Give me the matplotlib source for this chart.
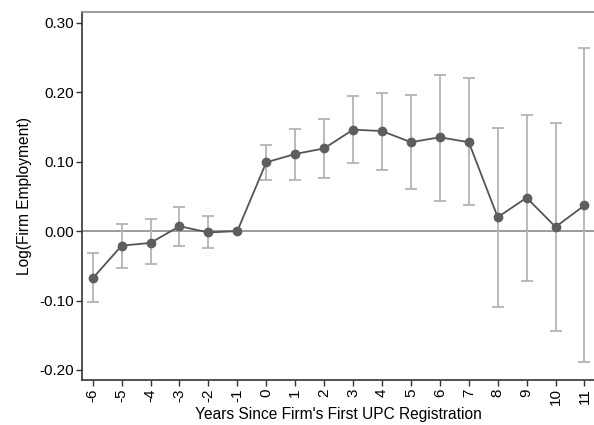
import numpy as np
import matplotlib
matplotlib.use("Agg")
import matplotlib.pyplot as plt

plt.rcParams['font.family'] = ['Liberation Sans', 'DejaVu Sans']

# event-time coefficients
years = [-6, -5, -4, -3, -2, -1, 0, 1, 2, 3, 4, 5, 6, 7, 8, 9, 10, 11]
coef = [-0.068, -0.021, -0.017, 0.007, -0.002, 0.0, 0.099, 0.111, 0.119, 0.146,
        0.144, 0.128, 0.135, 0.128, 0.020, 0.048, 0.006, 0.037]
ci_low = [-0.102, -0.053, -0.048, -0.021, -0.024, 0.0, 0.073, 0.074, 0.076, 0.098,
          0.088, 0.060, 0.044, 0.037, -0.109, -0.072, -0.144, -0.188]
ci_high = [-0.032, 0.010, 0.018, 0.035, 0.021, 0.0, 0.124, 0.147, 0.162, 0.194,
           0.199, 0.196, 0.224, 0.220, 0.149, 0.167, 0.155, 0.264]
yticks = [-0.20, -0.10, 0.00, 0.10, 0.20, 0.30]

years = np.array(years)
coef = np.array(coef)
lo = coef - np.array(ci_low)
hi = np.array(ci_high) - coef

fig = plt.figure(figsize=(5.94, 4.25), dpi=100)
ax = fig.add_axes([82 / 594, 1 - 380 / 425, 1 - 82 / 594 + 0.002, (380 - 12) / 425])

ax.axhline(0, color='#8a8a8a', lw=1.2, zorder=1)
ax.errorbar(years, coef, yerr=[lo, hi], fmt='none', ecolor='#b4b4b4',
            elinewidth=1.3, capsize=4, capthick=1.3, zorder=2)
ax.plot(years, coef, color='#555555', lw=1.3, marker='o', ms=6,
        markerfacecolor='#5e5e5e', markeredgecolor='#5e5e5e', zorder=3)

ax.set_xlim(-6.37, 11.37)
ax.set_ylim(-0.2144, 0.3154)
ax.set_xticks(years)
ax.set_xticklabels([str(y) for y in years], rotation=90)
ax.set_yticks(yticks)
ax.set_yticklabels(['%.2f' % v for v in yticks])

ax.spines['right'].set_visible(False)
ax.spines['top'].set_color('#8a8a8a')
ax.spines['top'].set_linewidth(1.2)
for s in ['left', 'bottom']:
    ax.spines[s].set_color('#333333')
    ax.spines[s].set_linewidth(1.2)
ax.tick_params(direction='out', length=4, width=1, color='#333333',
               labelsize=11, pad=2)

ax.set_xlabel("Years Since Firm's First UPC Registration", fontsize=11.2, labelpad=1)
ax.set_ylabel('Log(Firm Employment)', fontsize=11.2, labelpad=5)

fig.savefig('out.png', dpi=100)
